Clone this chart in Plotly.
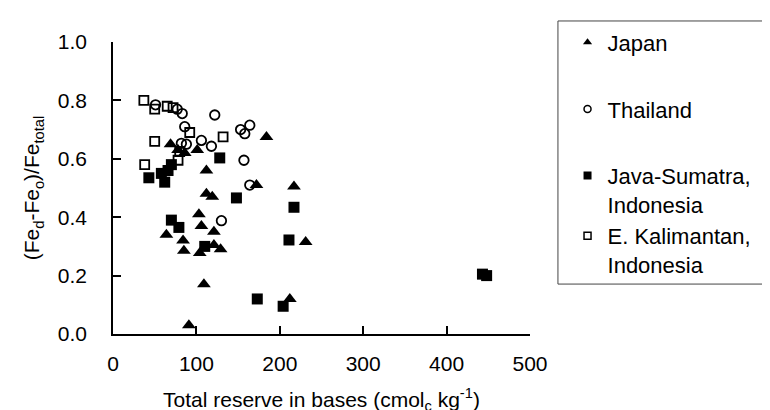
import plotly.graph_objects as go

# ---- data ----
japan_x = [91, 64, 69, 78, 86, 84, 85, 101, 103, 106, 104, 109, 112, 112, 119, 121, 121, 129, 172, 184, 212, 217, 231]
japan_y = [0.03, 0.34, 0.65, 0.63, 0.62, 0.32, 0.285, 0.63, 0.41, 0.37, 0.277, 0.17, 0.56, 0.48, 0.47, 0.35, 0.305, 0.29, 0.51, 0.675, 0.12, 0.505, 0.315]

thai_x = [51, 77, 83, 86, 122, 153, 164, 158, 106, 118, 82, 88, 157, 164, 130]
thai_y = [0.785, 0.77, 0.755, 0.71, 0.75, 0.70, 0.715, 0.686, 0.663, 0.643, 0.653, 0.65, 0.595, 0.51, 0.388]

java_x = [43, 58, 62, 66, 70, 128, 148, 70, 79, 110, 173, 204, 211, 217, 443, 448]
java_y = [0.535, 0.55, 0.52, 0.56, 0.58, 0.603, 0.466, 0.39, 0.365, 0.30, 0.12, 0.095, 0.322, 0.434, 0.205, 0.20]

ek_x = [37, 50, 65, 72, 92, 50, 132, 38, 80, 78]
ek_y = [0.80, 0.77, 0.78, 0.775, 0.69, 0.66, 0.675, 0.58, 0.625, 0.595]

legend_names = ["Japan", "Thailand", "Java-Sumatra,<br>Indonesia", "E. Kalimantan,<br>Indonesia"]
x_ticks = [0, 100, 200, 300, 400, 500]
y_ticks = [0.0, 0.2, 0.4, 0.6, 0.8, 1.0]

FONT = "Liberation Sans, Arial, sans-serif"

fig = go.Figure()

# data traces (no legend)
fig.add_trace(go.Scatter(x=java_x, y=java_y, mode="markers", showlegend=False,
                         marker=dict(symbol="square", size=11, color="black")))
fig.add_trace(go.Scatter(x=japan_x, y=japan_y, mode="markers", showlegend=False,
                         marker=dict(symbol="triangle-up", size=12, color="black")))
fig.add_trace(go.Scatter(x=ek_x, y=ek_y, mode="markers", showlegend=False,
                         marker=dict(symbol="square-open", size=9, color="black",
                                     line=dict(width=1.8, color="black"))))
fig.add_trace(go.Scatter(x=thai_x, y=thai_y, mode="markers", showlegend=False,
                         marker=dict(symbol="circle-open", size=9.5, color="black",
                                     line=dict(width=1.8, color="black"))))

# legend entries (small symbols as in the reference)
leg_styles = [
    dict(symbol="triangle-up", size=8, color="black"),
    dict(symbol="circle-open", size=7, color="black", line=dict(width=1.5, color="black")),
    dict(symbol="square", size=8, color="black"),
    dict(symbol="square-open", size=7, color="black", line=dict(width=1.5, color="black")),
]
groups = ["g1", "g2", "g3", "g3"]
for name, st, g in zip(legend_names, leg_styles, groups):
    fig.add_trace(go.Scatter(x=[None], y=[None], mode="markers", name=name,
                             legendgroup=g, marker=st))

fig.update_layout(
    width=770, height=410,
    margin=dict(l=105, r=248, t=34, b=84, autoexpand=False),
    paper_bgcolor="white", plot_bgcolor="white",
    font=dict(family=FONT, color="black"),
    showlegend=True,
    legend=dict(x=1.09, xanchor="left", y=1.07, yanchor="top",
                font=dict(size=22, family=FONT, color="black"),
                bgcolor="rgba(0,0,0,0)", borderwidth=0, maxheight=400,
                tracegroupgap=35, valign="top", traceorder="grouped"),
    shapes=[dict(type="rect", xref="paper", yref="paper",
                 x0=1.067, x1=1.590, y0=0.171, y1=1.072,
                 line=dict(color="#444444", width=1))],
)

fig.update_xaxes(range=[0, 500], tickvals=x_ticks, ticks="inside", ticklen=8,
                 tickwidth=1.5, tickcolor="black",
                 showline=True, linecolor="black", linewidth=1.5,
                 showgrid=False, zeroline=False,
                 tickfont=dict(size=21, family=FONT, color="black"),
                 ticklabelstandoff=10,
                 title=dict(text="Total reserve in bases (cmol<sub>c</sub> kg<sup>-1</sup>)",
                            font=dict(size=21, family=FONT, color="black"), standoff=18))
fig.update_yaxes(range=[0, 1], tickvals=y_ticks, tickformat=".1f", ticks="inside", ticklen=8,
                 tickwidth=1.5, tickcolor="black",
                 showline=True, linecolor="black", linewidth=1.5,
                 showgrid=False, zeroline=False,
                 tickfont=dict(size=21, family=FONT, color="black"),
                 ticklabelstandoff=20,
                 title=dict(text="(Fe<sub>d</sub>-Fe<sub>o</sub>)/Fe<sub>total</sub>",
                            font=dict(size=21, family=FONT, color="black"), standoff=12))

fig.write_html("out.html")
